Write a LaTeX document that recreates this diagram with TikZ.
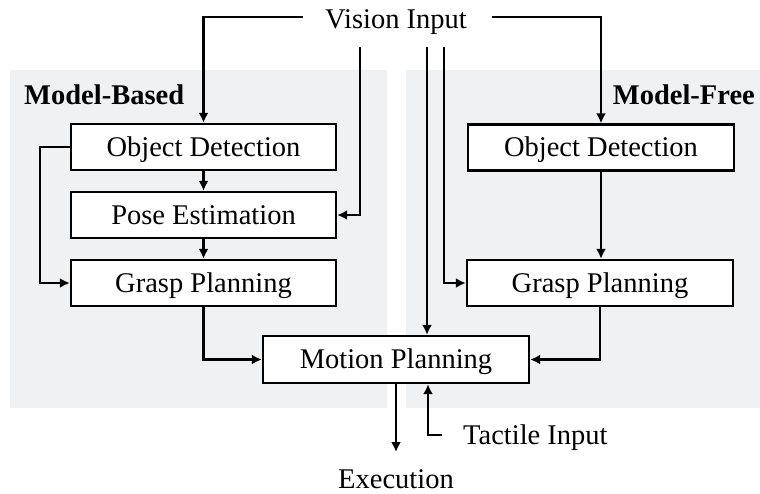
\documentclass[tikz,border=0pt]{standalone}
\usepackage{fontspec}
\setmainfont{Liberation Serif}
\usetikzlibrary{arrows.meta}
\definecolor{panelgray}{RGB}{240,241,243}
\tikzset{
  stagebox/.style={draw=black, line width=2.4pt, fill=white, minimum width=265pt,
    minimum height=46pt, inner sep=0pt, text height=18.5pt, text depth=0pt},
  flow/.style={line width=2.4pt, -{Latex[length=10pt,width=10pt]}},
  label/.style={inner sep=0pt, anchor=base}
}
\begin{document}
\begin{tikzpicture}[x=1pt,y=-1pt,font=\fontsize{28.5}{34}\selectfont]
\useasboundingbox (0,0) rectangle (760,493);
% grey background panels
\fill[panelgray] (10,70) rectangle (387,408);
\fill[panelgray] (406,70) rectangle (760,408);
% panel titles
\node[label, anchor=base west] (mb) at (24,104) {\textbf{Model-Based}};
\node[label, anchor=base east] (mf) at (755,104) {\textbf{Model-Free}};
% inputs and output
\node[label] (vision) at (396,28) {Vision Input};
\node[label, anchor=base west] (tactile) at (463,444) {Tactile Input};
\node[label] (exec) at (396,488) {Execution};
% model-based pipeline
\node[stagebox] (od1) at (203.5,147) {Object Detection};
\node[stagebox] (pe) at (203.5,215) {Pose Estimation};
\node[stagebox] (gp1) at (203.5,283) {Grasp Planning};
% model-free pipeline
\node[stagebox, minimum width=266pt] (od2) at (601,147.5) {Object Detection};
\node[stagebox, minimum width=266pt] (gp2) at (600,283) {Grasp Planning};
% shared stage
\node[stagebox, minimum width=266pt, minimum height=47pt] (mp) at (396,359.5) {Motion Planning};
% free ends of the input lines
\coordinate (v1) at (303,17);
\coordinate (v2) at (360,47);
\coordinate (v3) at (427,47);
\coordinate (v4) at (444,47);
\coordinate (v5) at (492,17);
\coordinate (t1) at (442,435);
\coordinate (e1) at (396,452);
% vision connections
\draw[flow] (v1) -| (od1.north);
\draw[flow] (v2) |- (pe.east);
\draw[flow] (v3) -- (v3 |- mp.north);
\draw[flow] (v4) |- (gp2.west);
\draw[flow] (v5) -| (od2.north);
% model-based flow
\draw[flow] (od1.south) -- (pe.north);
\draw[flow] (pe.south) -- (gp1.north);
\draw[flow] (od1.west) -- ++(-30,0) |- (gp1.west);
\draw[flow] (gp1.south) |- (mp.west);
% model-free flow
\draw[flow] (od2.south) -- (od2.south |- gp2.north);
\draw[flow] (gp2.south) |- (mp.east);
% execution and tactile feedback
\draw[flow] (mp.south) -- (e1);
\draw[flow] (t1) -| ([xshift=32pt]mp.south);
\end{tikzpicture}
\end{document}
